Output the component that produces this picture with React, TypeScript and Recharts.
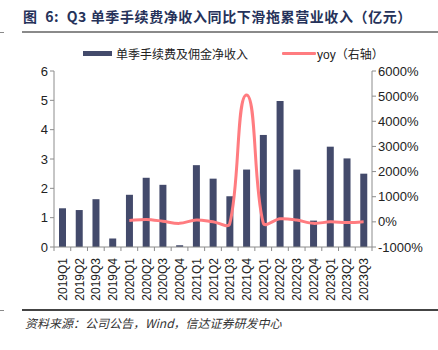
import React from "react";
import {
  Bar,
  ComposedChart,
  Line,
  XAxis,
  YAxis,
} from "recharts";

const quarters = [
  "2019Q1", "2019Q2", "2019Q3", "2019Q4",
  "2020Q1", "2020Q2", "2020Q3", "2020Q4",
  "2021Q1", "2021Q2", "2021Q3", "2021Q4",
  "2022Q1", "2022Q2", "2022Q3", "2022Q4",
  "2023Q1", "2023Q2", "2023Q3",
];

// 单季手续费及佣金净收入（亿元）
const feeIncome = [
  1.32, 1.26, 1.63, 0.29,
  1.78, 2.36, 2.12, 0.06,
  2.79, 2.33, 1.73, 2.64,
  3.82, 4.98, 2.64, 0.9,
  3.42, 3.02, 2.5,
];

// yoy（%），2019 年无同比
const yoy: (number | null)[] = [
  null, null, null, null,
  50, 95, 25, -60,
  75, 5, -70, 5050,
  -40, 120, 70, -60,
  0, -30, 0,
];

const leftTicks = [0, 1, 2, 3, 4, 5, 6];
const rightTicks = [-1000, 0, 1000, 2000, 3000, 4000, 5000, 6000];

const BAR_COLOR = "#434a6b";
const LINE_COLOR = "#ff7c80";
const AXIS_COLOR = "#8c8c8c";
const FONT = "'Liberation Sans', Arial, 'Noto Sans CJK SC', sans-serif";

const data = quarters.map((q, i) => ({ q, fee: feeIncome[i], yoy: yoy[i] }));

// Excel-like smoothed line: handle direction follows the neighbours, handle
// length follows the adjacent segment, capped so it can't overrun in x.
function smoothCurve(context: any) {
  let pts: [number, number][] = [];
  const dist = (a: [number, number], b: [number, number]) =>
    Math.hypot(b[0] - a[0], b[1] - a[1]);
  const handle = (ux: number, uy: number, len: number, dx: number): [number, number] => {
    let hx = ux * len;
    let hy = uy * len;
    const cap = 0.6 * Math.abs(dx);
    if (Math.abs(hx) > cap && hx !== 0) {
      const s = cap / Math.abs(hx);
      hx *= s;
      hy *= s;
    }
    return [hx, hy];
  };
  return {
    areaStart() {},
    areaEnd() {},
    lineStart() {
      pts = [];
    },
    point(x: number, y: number) {
      pts.push([+x, +y]);
    },
    lineEnd() {
      if (!pts.length) return;
      const n = pts.length;
      const out: [number, number][] = [];
      const inc: [number, number][] = [];
      for (let i = 0; i < n; i++) {
        const p0 = pts[i - 1] ?? pts[i];
        const p1 = pts[i];
        const p2 = pts[i + 1] ?? pts[i];
        const tx = p2[0] - p0[0];
        const ty = p2[1] - p0[1];
        const tl = Math.hypot(tx, ty) || 1;
        const ux = tx / tl;
        const uy = ty / tl;
        const ho = handle(ux, uy, dist(p1, p2) / 3, p2[0] - p1[0]);
        const hi = handle(ux, uy, dist(p0, p1) / 3, p1[0] - p0[0]);
        out.push([p1[0] + ho[0], p1[1] + ho[1]]);
        inc.push([p1[0] - hi[0], p1[1] - hi[1]]);
      }
      context.moveTo(pts[0][0], pts[0][1]);
      for (let i = 0; i < n - 1; i++) {
        context.bezierCurveTo(
          out[i][0], out[i][1],
          inc[i + 1][0], inc[i + 1][1],
          pts[i + 1][0], pts[i + 1][1]
        );
      }
    },
  };
}

const BAND = (372 - 54) / quarters.length;

function QuarterTick(props: any) {
  const { x, y, payload, index } = props;
  const left = x - BAND / 2;
  return (
    <g>
      <line x1={left} y1={y - 8} x2={left} y2={y - 4} stroke={AXIS_COLOR} />
      {index === quarters.length - 1 && (
        <line x1={left + BAND} y1={y - 8} x2={left + BAND} y2={y - 4} stroke={AXIS_COLOR} />
      )}
      <text
        x={0}
        y={0}
        transform={`translate(${x + 4.5},${y + 3}) rotate(-90)`}
        textAnchor="end"
        fontSize={12}
        fill="#222"
        fontFamily={FONT}
      >
        {payload.value}
      </text>
    </g>
  );
}

export default function App() {
  return (
    <div
      style={{
        position: "absolute",
        left: 0,
        top: 0,
        width: 438,
        height: 350,
        background: "#fff",
        overflow: "hidden",
        fontFamily: FONT,
      }}
    >
      <div
        style={{
          position: "absolute",
          left: 23,
          top: 6,
          fontSize: 14,
          fontWeight: "bold",
          color: "#26325a",
          letterSpacing: 0.6,
          whiteSpace: "nowrap",
          fontFamily: "'Noto Sans CJK SC', 'Liberation Sans', sans-serif",
        }}
      >
        图&nbsp;&nbsp;6:&nbsp;&nbsp;Q3 单季手续费净收入同比下滑拖累营业收入（亿元）
      </div>
      <div style={{ position: "absolute", left: 22, right: 0, top: 31, height: 2, background: "#8a8a8a" }} />
      <div style={{ position: "absolute", left: 0, width: 4, top: 32, height: 1, background: "#8a8a8a" }} />

      {/* legend */}
      <div style={{ position: "absolute", left: 83, top: 51, width: 29, height: 5, background: BAR_COLOR }} />
      <div
        style={{
          position: "absolute",
          left: 116,
          top: 45,
          fontSize: 12,
          color: "#222",
          whiteSpace: "nowrap",
          fontFamily: "'Noto Sans CJK SC', sans-serif",
        }}
      >
        单季手续费及佣金净收入
      </div>
      <div style={{ position: "absolute", left: 282, top: 52, width: 34, height: 3, background: LINE_COLOR, borderRadius: 1 }} />
      <div
        style={{
          position: "absolute",
          left: 317,
          top: 45,
          fontSize: 12,
          color: "#222",
          whiteSpace: "nowrap",
          fontFamily: "'Liberation Sans', 'Noto Sans CJK SC', sans-serif",
        }}
      >
        yoy（右轴）
      </div>

      <div style={{ position: "absolute", left: 0, top: 0 }}>
        <ComposedChart
          width={438}
          height={302}
          data={data}
          margin={{ top: 71, right: 0, bottom: 0, left: 0 }}
        >
          <XAxis
            dataKey="q"
            interval={0}
            height={55}
            tick={<QuarterTick />}
            tickLine={false}
            axisLine={{ stroke: AXIS_COLOR }}
          />
          <YAxis
            yAxisId="left"
            domain={[0, 6]}
            ticks={leftTicks}
            width={54}
            tick={{ fill: "#222", fontSize: 13, fontFamily: FONT }}
            tickSize={4}
            tickLine={{ stroke: AXIS_COLOR }}
            axisLine={{ stroke: AXIS_COLOR }}
            interval={0}
          />
          <YAxis
            yAxisId="right"
            orientation="right"
            domain={[-1000, 6000]}
            ticks={rightTicks}
            width={66}
            tickFormatter={(v: number) => `${v}%`}
            tick={{ fill: "#222", fontSize: 13, fontFamily: FONT }}
            tickSize={4}
            tickLine={{ stroke: AXIS_COLOR }}
            axisLine={{ stroke: AXIS_COLOR }}
            interval={0}
          />
          <Bar yAxisId="left" dataKey="fee" fill={BAR_COLOR} barSize={7} isAnimationActive={false} />
          <Line
            yAxisId="right"
            dataKey="yoy"
            type={smoothCurve as any}
            stroke={LINE_COLOR}
            strokeWidth={3}
            dot={false}
            activeDot={false}
            connectNulls={false}
            isAnimationActive={false}
          />
        </ComposedChart>
      </div>

      <div style={{ position: "absolute", left: 22, right: 0, top: 309, height: 1.5, background: "#444" }} />
      <div style={{ position: "absolute", left: 0, width: 4, top: 310, height: 1, background: "#8a8a8a" }} />
      <div
        style={{
          position: "absolute",
          left: 25,
          top: 314,
          fontSize: 12,
          fontStyle: "italic",
          color: "#333",
          whiteSpace: "nowrap",
          fontFamily: "'Noto Sans CJK SC', 'Liberation Sans', sans-serif",
        }}
      >
        资料来源：公司公告，Wind，信达证券研发中心
      </div>
    </div>
  );
}
